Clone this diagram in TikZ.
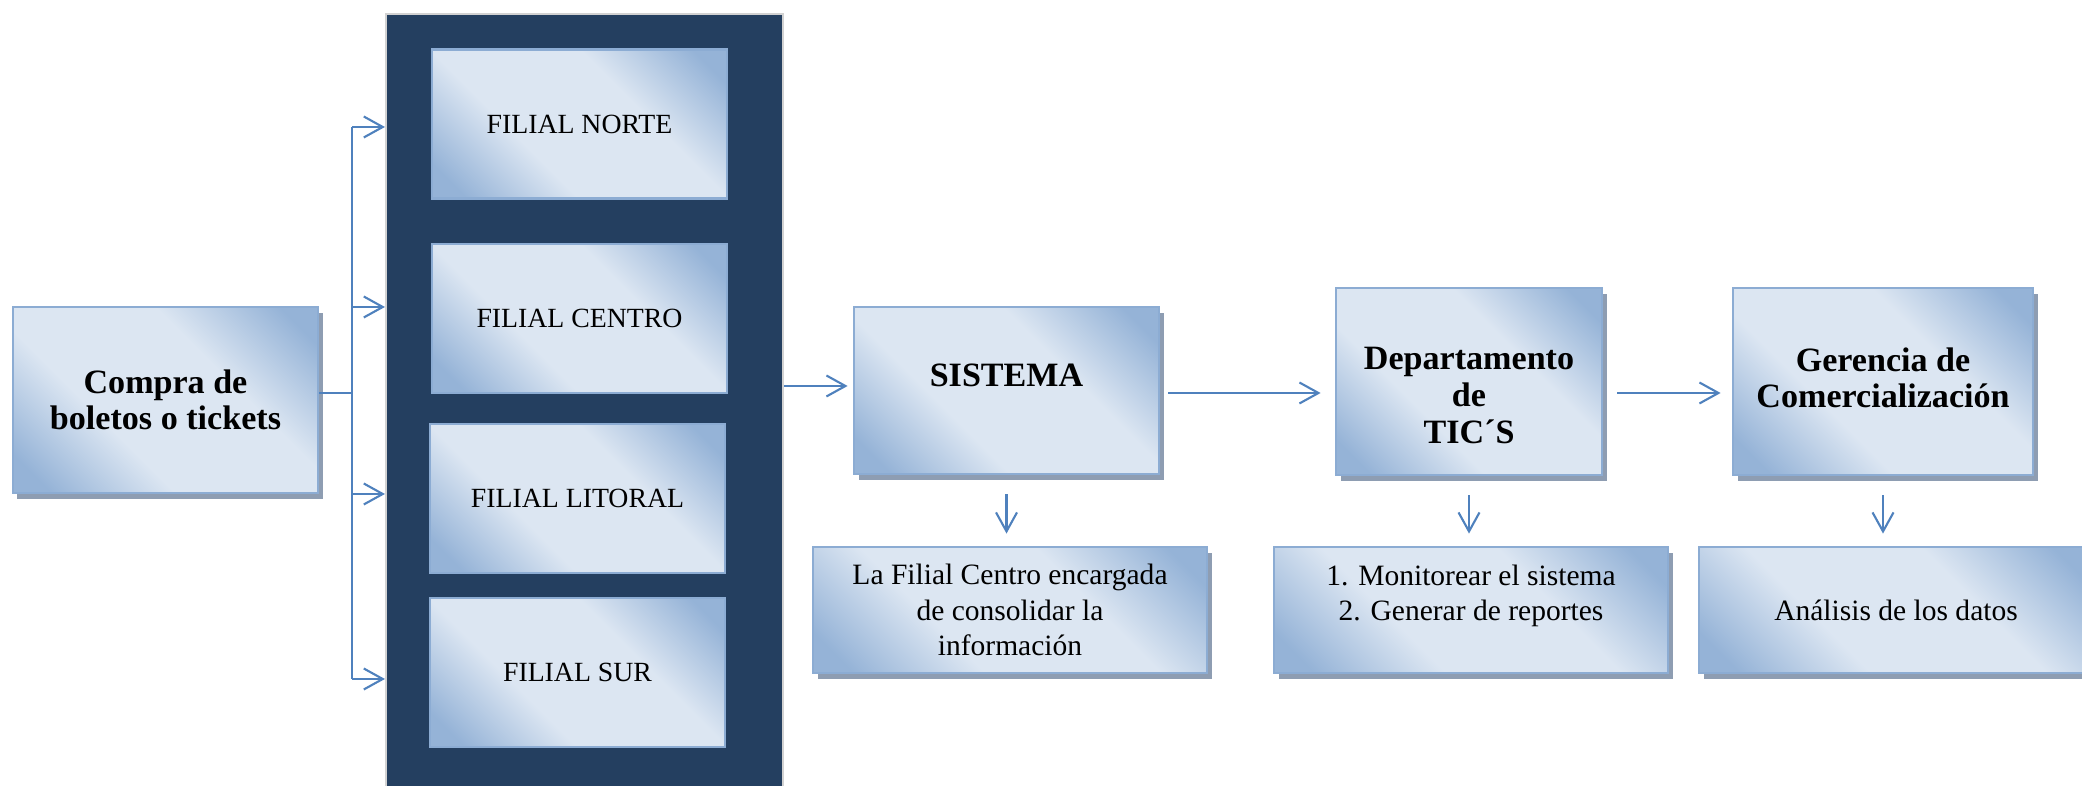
\documentclass[tikz,border=0pt]{standalone}
\usepackage{fontspec}
\setmainfont{Liberation Serif}
\usetikzlibrary{arrows.meta,shadows}
\definecolor{azulosc}{HTML}{243F60}
\definecolor{azulcl}{HTML}{DCE6F2}
\definecolor{azulmed}{HTML}{95B3D7}
\definecolor{borde}{HTML}{8CACD3}
\definecolor{linea}{HTML}{4F81BD}
\definecolor{gris}{HTML}{8E9DB2}
\pgfdeclareverticalshading{cajagrad}{100bp}{color(0bp)=(azulmed); color(20bp)=(azulmed); color(38bp)=(azulcl); color(62bp)=(azulcl); color(80bp)=(azulmed); color(100bp)=(azulmed)}

\begin{document}
\begin{tikzpicture}[
        caja/.style={rectangle, draw=borde, line width=0.8pt, shading=cajagrad, shading angle=-45, inner sep=0pt},
        sombra/.style={drop shadow={shadow xshift=0.045cm, shadow yshift=-0.065cm, fill=gris, opacity=1}},
        conector/.style={draw=linea, line width=0.6pt},
        flecha/.style={conector, -{Straight Barb[length=1.9mm,width=2.1mm]}},
        baja/.style={flecha, shorten <=0.19cm, shorten >=0.12cm},
        negrita/.style={font=\fontsize{9.7}{10.4}\selectfont\bfseries, align=center},
        normal/.style={font=\fontsize{8.4}{10}\selectfont, align=center},
        filial/.style={caja, minimum width=2.95cm, minimum height=1.49cm, font=\fontsize{7.9}{9.5}\selectfont}
    ]
    \useasboundingbox (0,0) rectangle (20.82,7.86);

    \node[caja,sombra,minimum width=3.05cm,minimum height=1.86cm,negrita] (compra) at (1.655,3.86) {Compra de\\boletos o tickets};

    \node[fill=azulosc,draw=gray!35,line width=0.6pt,minimum width=3.97cm,minimum height=8.2cm,anchor=north,inner sep=0pt] (filiales) at (5.845,7.73) {};
    \node[filial] (norte) at (5.795,6.62) {FILIAL NORTE};
    \node[filial] (centro) at (5.795,4.675) {FILIAL CENTRO};
    \node[filial] (litoral) at (5.775,2.875) {FILIAL LITORAL};
    \node[filial] (sur) at (5.775,1.135) {FILIAL SUR};

    \node[caja,sombra,minimum width=3.05cm,minimum height=1.67cm,
        label={[negrita,yshift=0.155cm]center:SISTEMA}] (sistema) at (10.065,3.955) {};
    \node[caja,sombra,minimum width=2.66cm,minimum height=1.87cm,
        label={[negrita,yshift=-0.14cm]center:Departamento\\de\\TIC´S}] (tics) at (14.69,4.045) {};
    \node[caja,sombra,minimum width=3.0cm,minimum height=1.87cm,
        label={[negrita,yshift=0.035cm]center:Gerencia de\\Comercialización}] (gerencia) at (18.83,4.045) {};

    \node[caja,sombra,minimum width=3.94cm,minimum height=1.26cm,normal] (info) at (10.10,1.76) {La Filial Centro encargada\\de consolidar la\\información};
    \node[caja,sombra,minimum width=3.94cm,minimum height=1.26cm,
        label={[normal,yshift=0.14cm]center:1. Monitorear el sistema\\2. Generar de reportes}] (tareas) at (14.71,1.76) {};
    \node[caja,sombra,minimum width=3.94cm,minimum height=1.26cm,normal] (analisis) at (18.96,1.76) {Análisis de los datos};

    \coordinate (split) at (3.52,3.93);
    \draw[conector] (compra.east |- split) -- (split);
    \draw[conector] (split |- 0,6.59) -- (split |- 0,1.07);
    \foreach \y in {6.59,4.79,2.92,1.07}
        \draw[flecha] (split |- 0,\y) -- (filiales.west |- 0,\y);

    \draw[flecha,shorten >=0.05cm] (filiales.east |- 0,4.00) -- (sistema.west |- 0,4.00);
    \draw[flecha,shorten <=0.08cm,shorten >=0.14cm] (sistema.east |- 0,3.93) -- (tics.west |- 0,3.93);
    \draw[flecha,shorten <=0.14cm,shorten >=0.11cm] (tics.east |- 0,3.93) -- (gerencia.west |- 0,3.93);

    \draw[baja] (sistema.south) -- (sistema.south |- info.north);
    \draw[baja] (tics.south) -- (tics.south |- tareas.north);
    \draw[baja] (gerencia.south) -- (gerencia.south |- analisis.north);
\end{tikzpicture}
\end{document}
